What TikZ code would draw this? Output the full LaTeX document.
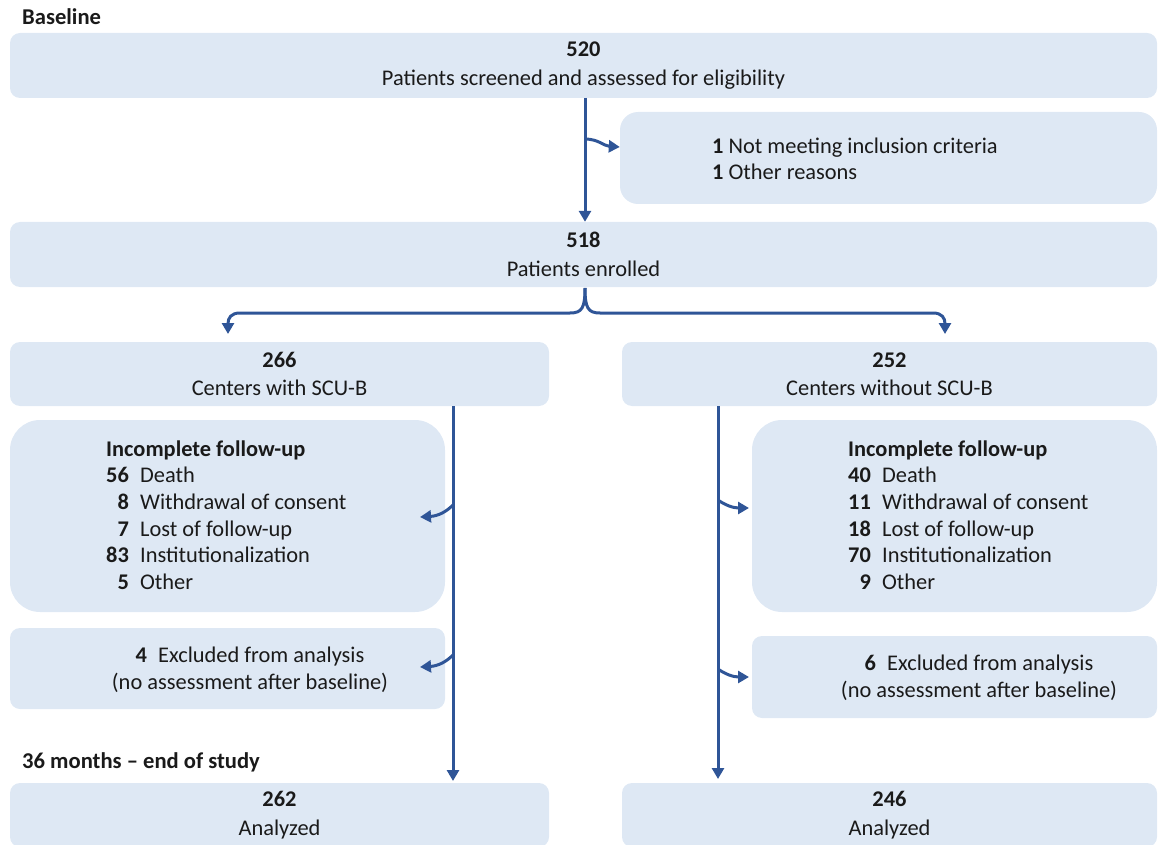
\documentclass[tikz,border=0pt]{standalone}
\usepackage{fontspec}
\setmainfont{Carlito}
\usetikzlibrary{arrows.meta}
\definecolor{boxfill}{HTML}{DEE8F4}
\definecolor{arrowblue}{HTML}{2F5597}
\definecolor{txtcol}{HTML}{1A1A1A}
\begin{document}
\begin{tikzpicture}[x=1pt,y=-1pt,
  box/.style={fill=boxfill, draw=none, rounded corners=10pt, inner sep=0pt, align=center,
              font=\fontsize{22.4}{28.5}\selectfont, text=txtcol},
  bigbox/.style={box, rounded corners=30pt},
  txt/.style={inner sep=0pt, font=\fontsize{22.4}{26.6}\selectfont, text=txtcol},
  head/.style={inner sep=0pt, anchor=west, font=\fontsize{22.6}{26}\selectfont\bfseries, text=txtcol},
  conn/.style={draw=arrowblue, line width=3pt, -{Triangle[width=12pt,length=11pt]}}]

\useasboundingbox (0,0) rectangle (1159,845);

% phase labels
\node[head] (lbase) at (22,17) {Baseline};
\node[head] (lend) at (22,762) {36 months -- end of study};

% boxes
\node[box, minimum width=1147pt, minimum height=65pt] (screened) at (583.5,65.5)
  {\textbf{520}\\Patients screened and assessed for eligibility};
\node[bigbox, rounded corners=18pt, minimum width=537pt, minimum height=92pt] (excl) at (888.5,158) {};
\node[txt, anchor=west, align=left] (excltxt) at (712,159)
  {\textbf{1} Not meeting inclusion criteria\\\textbf{1} Other reasons};
\node[box, minimum width=1147pt, minimum height=65pt] (enrolled) at (583.5,254.5)
  {\textbf{518}\\Patients enrolled};
\node[box, minimum width=539pt, minimum height=64pt] (grpL) at (279.5,374)
  {\textbf{266}\\Centers with SCU-B};
\node[box, minimum width=535pt, minimum height=64pt] (grpR) at (889.5,374)
  {\textbf{252}\\Centers without SCU-B};

\node[bigbox, minimum width=435pt, minimum height=192pt] (incL) at (227.5,516) {};
\node[txt, anchor=west] (incLtxt) at (106,517.5)
  {\begin{tabular}{@{}r@{\hspace{0.5em}}l@{}}
   \multicolumn{2}{@{}l@{}}{\textbf{Incomplete follow-up}}\\
   \textbf{56} & Death\\
   \textbf{8} & Withdrawal of consent\\
   \textbf{7} & Lost of follow-up\\
   \textbf{83} & Institutionalization\\
   \textbf{5} & Other
   \end{tabular}};
\node[bigbox, minimum width=405pt, minimum height=192pt] (incR) at (954.5,516) {};
\node[txt, anchor=west] (incRtxt) at (848,517.5)
  {\begin{tabular}{@{}r@{\hspace{0.5em}}l@{}}
   \multicolumn{2}{@{}l@{}}{\textbf{Incomplete follow-up}}\\
   \textbf{40} & Death\\
   \textbf{11} & Withdrawal of consent\\
   \textbf{18} & Lost of follow-up\\
   \textbf{70} & Institutionalization\\
   \textbf{9} & Other
   \end{tabular}};

\node[box, minimum width=435pt, minimum height=81pt] (exL) at (227.5,668.5) {};
\node[txt, align=center] (exLtxt) at (250,669.5)
  {\textbf{4}\enspace Excluded from analysis\\(no assessment after baseline)};
\node[box, minimum width=405pt, minimum height=82pt] (exR) at (954.5,677) {};
\node[txt, align=center] (exRtxt) at (979,677.5)
  {\textbf{6}\enspace Excluded from analysis\\(no assessment after baseline)};

\node[box, minimum width=539pt, minimum height=64pt] (anL) at (279.5,815)
  {\textbf{262}\\Analyzed};
\node[box, minimum width=535pt, minimum height=64pt] (anR) at (889.5,815)
  {\textbf{246}\\Analyzed};

% connectors
\coordinate (s1) at (585,98);
\coordinate (b1) at (585,139);
\draw[conn] (s1) -- (enrolled.north -| s1);
\draw[conn] (b1) .. controls (598,139) and (604,146) .. (excl.west |- 0,147);

\coordinate (s2) at (585,288);
\coordinate (tL) at (228,334);
\coordinate (tR) at (945,334);
\draw[conn] (s2) .. controls (585,308) and (582,313) .. (570,313) -- (240,313)
  .. controls (231,313) and (228,318) .. (tL);
\draw[conn] (s2) .. controls (585,308) and (588,313) .. (600,313) -- (933,313)
  .. controls (942,313) and (945,318) .. (tR);

% left column
\coordinate (lT) at (453,406);
\coordinate (lB) at (453,781);
\draw[conn] (lT) -- (lB);
\coordinate (lb1) at (453,505);
\coordinate (lb2) at (453,655);
\draw[conn] (lb1) .. controls (446,512) and (438,516) .. (420,517);
\draw[conn] (lb2) .. controls (446,662) and (438,666) .. (420,667);

% right column
\coordinate (rT) at (718,406);
\coordinate (rB) at (718,779);
\draw[conn] (rT) -- (rB);
\coordinate (rb1) at (718,500);
\coordinate (rb2) at (718,669);
\draw[conn] (rb1) .. controls (725,505) and (733,508) .. (749,508);
\draw[conn] (rb2) .. controls (725,674) and (733,677) .. (749,677);
\end{tikzpicture}
\end{document}
